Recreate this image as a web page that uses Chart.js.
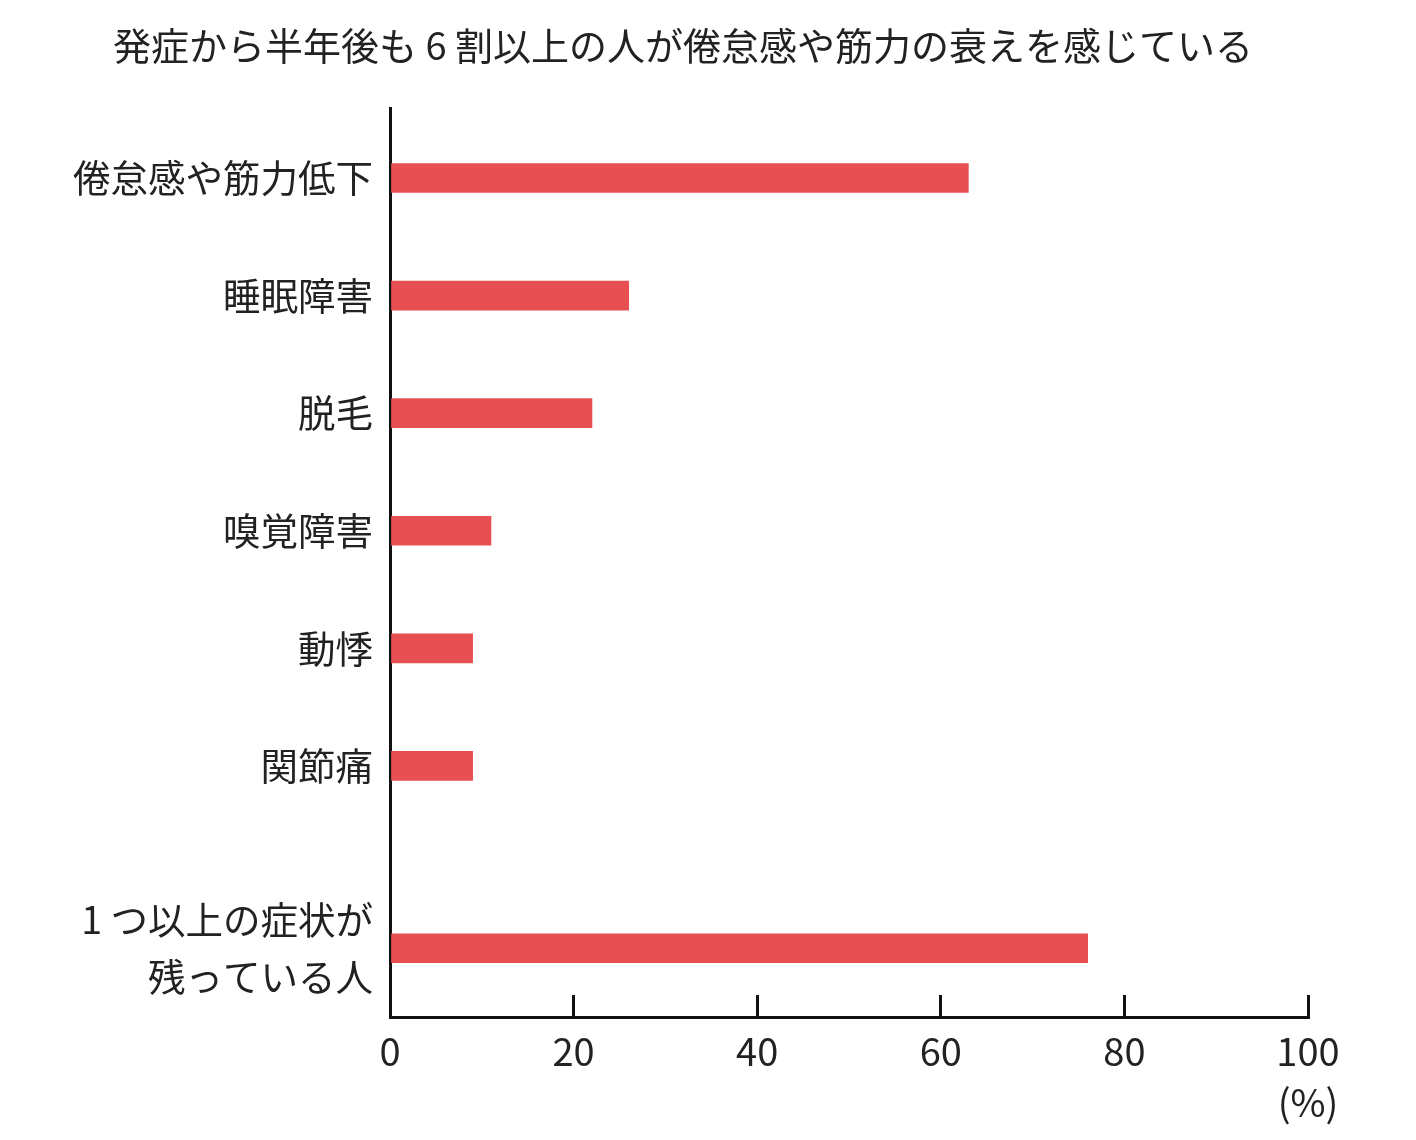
<!DOCTYPE html>
<html lang="ja">
<head>
<meta charset="utf-8">
<script src="https://cdn.jsdelivr.net/npm/chart.js@4.4.1/dist/chart.umd.min.js"></script>
<style>
html,body{margin:0;padding:0;background:#fff;}
#wrap{width:1416px;height:1140px;position:relative;}
</style>
</head>
<body>
<div id="wrap"><canvas id="c"></canvas></div>
<script>
const titleText = '発症から半年後も 6 割以上の人が倦怠感や筋力の衰えを感じている';
const categories = ['倦怠感や筋力低下', '睡眠障害', '脱毛', '嗅覚障害', '動悸', '関節痛', ['1 つ以上の症状が', '残っている人']];
const values = [63, 26, 22, 11, 9, 9, 76];
const rowIndex = [0, 1, 2, 3, 4, 5, 6.55];
const xTicks = [0, 20, 40, 60, 80, 100];
const unitLabel = '(%)';

const FONT = '"Noto Sans CJK JP", "Noto Sans", sans-serif';
const TEXT = '#222222';
const AXIS = '#111111';

new Chart(document.getElementById('c'), {
  type: 'bar',
  data: {
    datasets: [{
      data: values.map((v, i) => ({ x: v, y: rowIndex[i] })),
      backgroundColor: '#e84f52',
      borderWidth: 0,
      barThickness: 29
    }]
  },
  options: {
    indexAxis: 'y',
    responsive: true,
    maintainAspectRatio: false,
    devicePixelRatio: 1,
    animation: false,
    layout: { padding: { left: 58, right: 108, top: 0, bottom: 0 } },
    plugins: {
      legend: { display: false },
      tooltip: { enabled: false },
      title: {
        display: true,
        text: titleText,
        color: TEXT,
        font: { family: FONT, size: 38, weight: 'normal', lineHeight: 1.2 },
        padding: { top: 23, bottom: 39.4 }
      }
    },
    scales: {
      x: {
        type: 'linear',
        position: 'bottom',
        min: 0,
        max: 100,
        offset: false,
        afterBuildTicks: s => { s.ticks = xTicks.map(v => ({ value: v })); },
        afterFit: s => { s.height = 123; },
        ticks: {
          color: TEXT,
          font: { family: FONT, size: 38, lineHeight: 1.34 },
          padding: 31.4,
          maxRotation: 0,
          autoSkip: false,
          callback: (v, i, t) => i === t.length - 1 ? [String(v), unitLabel] : String(v)
        },
        grid: { display: true, drawOnChartArea: false, drawTicks: true, tickLength: -22, color: AXIS, lineWidth: 3, offset: false },
        border: { display: true, color: AXIS, width: 3 }
      },
      y: {
        type: 'linear',
        reverse: true,
        min: -0.595,
        max: 7.135,
        offset: false,
        afterBuildTicks: s => { s.ticks = rowIndex.map(v => ({ value: v })); },
        afterFit: s => { s.width = 332; },
        ticks: {
          color: TEXT,
          font: { family: FONT, size: 37.5, lineHeight: 1.5 },
          padding: 17,
          autoSkip: false,
          callback: (v, i) => categories[i]
        },
        grid: { display: false, drawTicks: false, offset: false },
        border: { display: true, color: AXIS, width: 3 }
      }
    }
  }
});
</script>
</body>
</html>
